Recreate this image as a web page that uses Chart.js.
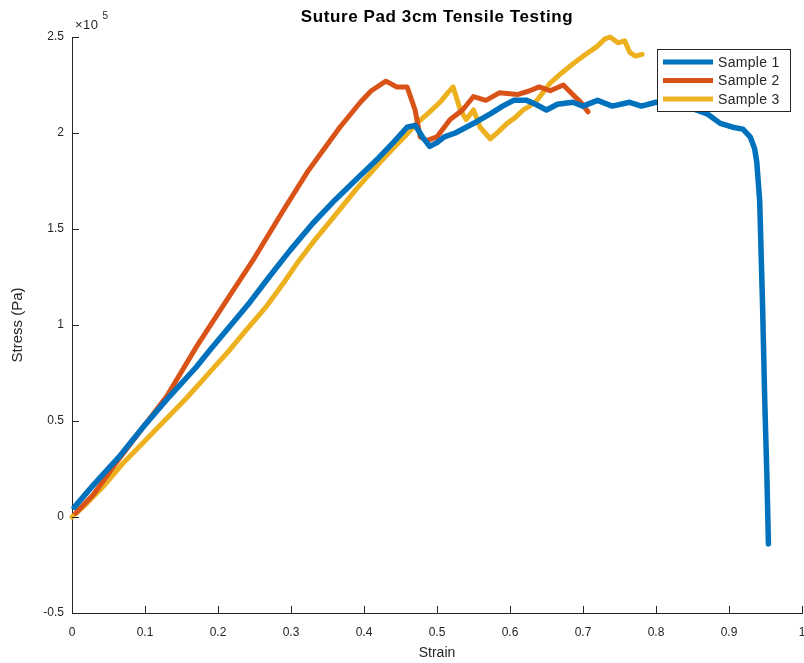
<!DOCTYPE html>
<html>
<head>
<meta charset="utf-8">
<script src="https://cdn.jsdelivr.net/npm/chart.js@4.4.1/dist/chart.umd.min.js"></script>
<style>
  html, body { margin: 0; padding: 0; background: #fff; }
  #wrap { width: 804px; height: 663px; }
</style>
</head>
<body>
<div id="wrap"><canvas id="tensileChart" width="804" height="663"></canvas></div>
<script>
const TITLE = "Suture Pad 3cm Tensile Testing";
const X_LABEL = "Strain";
const Y_LABEL = "Stress (Pa)";
const Y_EXPONENT = "5";

// stress values are in units of 1e5 Pa (axis shows x10^5)
const strain1 = [0.003, 0.03, 0.066, 0.1, 0.134, 0.17, 0.189, 0.22, 0.244, 0.27, 0.299, 0.33, 0.36, 0.39, 0.42,
  0.44, 0.459, 0.47, 0.48, 0.49, 0.5, 0.51, 0.525, 0.54, 0.555, 0.573, 0.59, 0.605, 0.623, 0.635, 0.65, 0.665,
  0.686, 0.7, 0.72, 0.74, 0.764, 0.78, 0.8, 0.82, 0.837, 0.855, 0.87, 0.888, 0.905, 0.919, 0.929, 0.935, 0.938,
  0.942, 0.946, 0.949, 0.952, 0.954];
const stress1 = [0.05, 0.17, 0.32, 0.48, 0.63, 0.78, 0.87, 1.01, 1.12, 1.25, 1.39, 1.53, 1.65, 1.76, 1.87,
  1.95, 2.03, 2.04, 1.98, 1.93, 1.95, 1.98, 2.0, 2.03, 2.06, 2.1, 2.14, 2.17, 2.17, 2.15, 2.12, 2.15,
  2.16, 2.14, 2.17, 2.14, 2.16, 2.14, 2.16, 2.15, 2.14, 2.12, 2.1, 2.05, 2.03, 2.02, 1.98, 1.92, 1.85,
  1.65, 1.1, 0.6, 0.2, -0.14];

const strain2 = [0.005, 0.03, 0.06, 0.1, 0.13, 0.171, 0.212, 0.25, 0.29, 0.323, 0.344, 0.367, 0.395, 0.41,
  0.43, 0.445, 0.459, 0.47, 0.477, 0.486, 0.5, 0.518, 0.535, 0.55, 0.567, 0.586, 0.61, 0.627, 0.64, 0.655,
  0.673, 0.686, 0.697, 0.707];
const stress2 = [0.02, 0.12, 0.28, 0.48, 0.63, 0.89, 1.13, 1.35, 1.6, 1.8, 1.91, 2.03, 2.16, 2.22,
  2.27, 2.24, 2.24, 2.12, 1.98, 1.96, 1.98, 2.07, 2.12, 2.19, 2.17, 2.21, 2.2, 2.22, 2.24, 2.22,
  2.25, 2.2, 2.16, 2.11];

const strain3 = [0.0, 0.02, 0.043, 0.07, 0.111, 0.157, 0.19, 0.216, 0.24, 0.267, 0.29, 0.308, 0.33, 0.36,
  0.39, 0.418, 0.44, 0.458, 0.472, 0.49, 0.504, 0.515, 0.522, 0.527, 0.532, 0.54, 0.55, 0.559, 0.566, 0.573,
  0.585, 0.596, 0.607, 0.618, 0.627, 0.637, 0.655, 0.67, 0.686, 0.7, 0.719, 0.73, 0.737, 0.748, 0.757,
  0.764, 0.772, 0.781];
const stress3 = [0.0, 0.07, 0.16, 0.28, 0.44, 0.62, 0.76, 0.87, 0.98, 1.1, 1.22, 1.32, 1.43, 1.57,
  1.71, 1.83, 1.92, 1.99, 2.05, 2.11, 2.16, 2.21, 2.24, 2.18, 2.12, 2.07, 2.12, 2.03, 2.0, 1.97,
  2.01, 2.05, 2.08, 2.12, 2.14, 2.17, 2.26, 2.31, 2.36, 2.4, 2.45, 2.49, 2.5, 2.47, 2.48,
  2.42, 2.4, 2.41];

const SERIES_NAMES = ["Sample 1", "Sample 2", "Sample 3"];
const SERIES_COLORS = ["#0072BD", "#D95319", "#EDB120"];

const X_TICKS = [0, 0.1, 0.2, 0.3, 0.4, 0.5, 0.6, 0.7, 0.8, 0.9, 1];
const Y_TICKS = [-0.5, 0, 0.5, 1, 1.5, 2, 2.5];

const AXIS_COLOR = "#262626";
const FONT = "'Liberation Sans', Arial, sans-serif";
const TICK_LEN = 7;

function toPoints(xs, ys) {
  return xs.map((x, i) => ({ x: x, y: ys[i] }));
}

const allStrain = [strain1, strain2, strain3];
const allStress = [stress1, stress2, stress3];

const datasets = SERIES_NAMES.map((name, i) => ({
  label: name,
  data: toPoints(allStrain[i], allStress[i]),
  showLine: true,
  borderColor: SERIES_COLORS[i],
  backgroundColor: SERIES_COLORS[i],
  borderWidth: i === 0 ? 5.5 : 5,
  pointRadius: 0,
  pointHoverRadius: 0,
  borderJoinStyle: "round",
  borderCapStyle: "round",
  tension: 0,
  clip: false
}));

// inward ticks, title, exponent label and framed legend, MATLAB style
const matlabDecor = {
  id: "matlabDecor",
  afterDraw(chart) {
    const { ctx, chartArea, scales } = chart;
    const xs = scales.x;
    const ys = scales.y;
    ctx.save();

    ctx.strokeStyle = AXIS_COLOR;
    ctx.lineWidth = 1;
    ctx.beginPath();
    X_TICKS.forEach((t) => {
      const px = Math.round(xs.getPixelForValue(t)) + 0.5;
      ctx.moveTo(px, chartArea.bottom);
      ctx.lineTo(px, chartArea.bottom - TICK_LEN);
    });
    Y_TICKS.forEach((t) => {
      const py = Math.round(ys.getPixelForValue(t)) + 0.5;
      ctx.moveTo(chartArea.left, py);
      ctx.lineTo(chartArea.left + TICK_LEN, py);
    });
    ctx.stroke();

    // title centred over the axes
    ctx.fillStyle = "#000";
    ctx.font = "bold 17px " + FONT;
    ctx.letterSpacing = "0.6px";
    ctx.textAlign = "center";
    ctx.textBaseline = "middle";
    ctx.fillText(TITLE, (chartArea.left + chartArea.right) / 2, 17);

    // x10^5 multiplier
    ctx.letterSpacing = "0.5px";
    ctx.fillStyle = AXIS_COLOR;
    ctx.font = "13px " + FONT;
    ctx.textAlign = "left";
    ctx.textBaseline = "alphabetic";
    ctx.fillText("\u00d710", chartArea.left + 3, 29);
    const w = ctx.measureText("\u00d710").width;
    ctx.font = "10px " + FONT;
    ctx.fillText(Y_EXPONENT, chartArea.left + 7 + w, 19);

    // legend box
    const lx = 657, ly = 49, lw = 133, lh = 62;
    ctx.fillStyle = "#fff";
    ctx.fillRect(lx, ly, lw, lh);
    ctx.strokeStyle = AXIS_COLOR;
    ctx.lineWidth = 1;
    ctx.strokeRect(lx + 0.5, ly + 0.5, lw, lh);
    ctx.font = "14px " + FONT;
    ctx.letterSpacing = "0.3px";
    ctx.textBaseline = "middle";
    chart.data.datasets.forEach((ds, i) => {
      const yy = ly + 13 + i * 18.5;
      ctx.strokeStyle = ds.borderColor;
      ctx.lineWidth = 5;
      ctx.lineCap = "butt";
      ctx.beginPath();
      ctx.moveTo(lx + 6, yy);
      ctx.lineTo(lx + 56, yy);
      ctx.stroke();
      ctx.fillStyle = AXIS_COLOR;
      ctx.fillText(ds.label, lx + 61, yy + 1);
    });

    ctx.restore();
  }
};

const chart = new Chart(document.getElementById("tensileChart"), {
  type: "scatter",
  data: { datasets: datasets },
  options: {
    responsive: false,
    animation: false,
    layout: { padding: { top: 37, right: 2, left: 0, bottom: 0 } },
    plugins: {
      legend: { display: false },
      tooltip: { enabled: false },
      title: { display: false }
    },
    scales: {
      x: {
        type: "linear",
        min: 0,
        max: 1,
        afterBuildTicks(scale) {
          scale.ticks = X_TICKS.map((v) => ({ value: v }));
        },
        afterFit(scale) {
          scale.height = 50;
          scale.paddingLeft = 0;
          scale.paddingRight = 0;
        },
        grid: { display: false, drawTicks: false },
        border: { display: true, color: AXIS_COLOR, width: 1 },
        ticks: {
          color: AXIS_COLOR,
          padding: 12,
          maxRotation: 0,
          autoSkip: false,
          font: { family: FONT, size: 12 },
          callback: (v) => String(v)
        },
        title: {
          display: true,
          text: X_LABEL,
          color: AXIS_COLOR,
          font: { family: FONT, size: 14 },
          padding: { top: 0, bottom: 1 }
        }
      },
      y: {
        type: "linear",
        min: -0.5,
        max: 2.5,
        afterBuildTicks(scale) {
          scale.ticks = Y_TICKS.map((v) => ({ value: v }));
        },
        afterFit(scale) {
          scale.width = 72;
          scale.paddingTop = 0;
          scale.paddingBottom = 0;
        },
        grid: { display: false, drawTicks: false },
        border: { display: true, color: AXIS_COLOR, width: 1 },
        ticks: {
          color: AXIS_COLOR,
          padding: 8,
          autoSkip: false,
          font: { family: FONT, size: 12 },
          callback: (v) => String(v)
        },
        title: {
          display: true,
          text: Y_LABEL,
          color: AXIS_COLOR,
          font: { family: FONT, size: 15 },
          padding: { top: 9, bottom: 0 }
        }
      }
    }
  },
  plugins: [matlabDecor]
});
</script>
</body>
</html>
